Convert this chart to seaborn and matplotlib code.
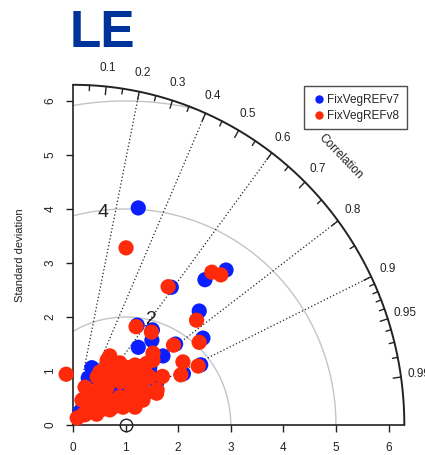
import numpy as np
import pandas as pd
import matplotlib
matplotlib.use("Agg")
import matplotlib.pyplot as plt
import seaborn as sns

# ---------------- data (standard deviation, correlation) ----------------
models = ["FixVegREFv7", "FixVegREFv8"]
colors = ["#0A1EFF", "#FF2A0A"]

sd_v7 = [4.207, 4.087, 3.679, 3.162, 3.196, 2.948, 2.460, 2.672, 2.305, 2.136,
         2.216, 2.319, 2.171, 1.900, 1.810, 1.761, 1.771, 1.446, 1.549, 1.078,
         1.088, 0.917, 1.120, 0.327, 0.273, 1.089, 0.381, 0.781, 1.166, 0.541,
         1.432, 1.345, 1.140, 1.142, 0.626, 0.930, 1.415]
corr_v7 = [0.295, 0.712, 0.682, 0.591, 0.751, 0.838, 0.793, 0.909, 0.911, 0.801,
           0.551, 0.651, 0.691, 0.653, 0.807, 0.863, 0.898, 0.788, 0.723, 0.798,
           0.349, 0.316, 0.321, 0.520, 0.476, 0.698, 0.499, 0.768, 0.858, 0.832,
           0.908, 0.669, 0.614, 0.919, 0.479, 0.591, 0.848]

sd_v8 = [3.432, 3.870, 3.953, 3.135, 3.047, 2.846, 2.416, 2.395, 2.251, 2.618,
         1.924, 2.180, 2.276, 2.020, 0.949, 1.806, 1.696, 1.459, 1.247, 0.737,
         0.269, 0.866, 1.170, 1.458, 1.620, 1.763, 1.031, 1.225, 1.407, 0.829,
         0.654, 0.534, 0.153, 0.298, 0.704, 1.365, 1.454, 1.250, 0.955, 0.679,
         0.838, 1.323, 1.552, 1.525, 1.253, 1.006, 0.754, 1.727, 0.460, 1.002,
         0.490, 1.937, 1.710, 1.105, 0.721, 0.671, 1.204, 1.304, 0.424, 0.778,
         1.414, 1.366, 1.124, 0.939, 0.492, 1.523]
corr_v8 = [0.294, 0.682, 0.711, 0.577, 0.771, 0.843, 0.791, 0.873, 0.911, 0.909,
           0.884, 0.550, 0.655, 0.753, -0.137, 0.775, 0.938, 0.480, 0.513, 0.312,
           0.707, 0.589, 0.650, 0.679, 0.728, 0.777, 0.863, 0.963, 0.945, 0.917,
           0.780, 0.506, 0.524, 0.771, 0.384, 0.476, 0.612, 0.640, 0.681, 0.677,
           0.836, 0.779, 0.786, 0.859, 0.910, 0.945, 0.929, 0.926, 0.696, 0.459,
           0.347, 0.785, 0.854, 0.462, 0.555, 0.894, 0.747, 0.844, 0.707, 0.707,
           0.707, 0.915, 0.534, 0.905, 0.914, 0.919]

ref_sd = 1.0
max_sd = 6.3
rms_levels = [2, 4, 6]
gamma_lines = [0.2, 0.4, 0.6, 0.8, 0.9]
corr_labels = [0.1, 0.2, 0.3, 0.4, 0.5, 0.6, 0.7, 0.8, 0.9, 0.95, 0.99]
sd_ticks = [0, 1, 2, 3, 4, 5, 6]

# ---------------- build table ----------------
frames = []
for m, sd, cr in [(models[0], sd_v7, corr_v7), (models[1], sd_v8, corr_v8)]:
    sd = np.asarray(sd); cr = np.asarray(cr)
    frames.append(pd.DataFrame({"model": m, "x": sd * cr,
                                "y": sd * np.sqrt(1 - cr ** 2)}))
df = pd.concat(frames, ignore_index=True)

# ---------------- figure ----------------
sns.set_style("white")
plt.rcParams["font.family"] = ["Liberation Sans", "DejaVu Sans"]

fig = plt.figure(figsize=(4.25, 4.55), dpi=100)
ax = fig.add_axes([0.1408, 0.0363, 0.8415, 0.807])
ax.set_xlim(-0.25, 6.55)
ax.set_ylim(-0.25, 6.55)

# RMS arcs around reference
th = np.linspace(0, np.pi, 800)
for r in rms_levels:
    xs = ref_sd + r * np.cos(th)
    ys = r * np.sin(th)
    ok = (np.hypot(xs, ys) <= max_sd) & (xs >= 0)
    xs = np.where(ok, xs, np.nan); ys = np.where(ok, ys, np.nan)
    ax.plot(xs, ys, color="#C4C4C4", lw=1.0, zorder=1)

# correlation lines
for g in gamma_lines:
    ax.plot([0, max_sd * g], [0, max_sd * np.sqrt(1 - g ** 2)],
            color="#222222", lw=0.9, ls=(0, (1, 1.8)), zorder=1)

# outer arc
ta = np.linspace(0, np.pi / 2, 300)
ax.plot(max_sd * np.cos(ta), max_sd * np.sin(ta), color="#222222", lw=1.4,
        zorder=2, clip_on=False)

# arc ticks
minor = list(np.round(np.arange(0.05, 0.91, 0.05), 2)) + list(np.round(np.arange(0.91, 1.0, 0.01), 2))
for c in minor:
    major = any(abs(c - v) < 1e-6 for v in corr_labels)
    L = 0.024 if major else 0.016
    s = np.sqrt(1 - c ** 2)
    ax.plot([max_sd * c, max_sd * (1 - L) * c], [max_sd * s, max_sd * (1 - L) * s],
            color="#222222", lw=1.0, zorder=2)
for c in corr_labels:
    s = np.sqrt(1 - c ** 2)
    ax.text(max_sd * 1.055 * c, max_sd * 1.055 * s, f"{c:g}", ha="center",
            va="center", fontsize=8.5, color="#222222")
ax.text(5.08, 4.97, "Correlation", rotation=-46, ha="center", va="center",
        fontsize=8.5, color="#222222", rotation_mode="anchor")

# RMS labels
ax.text(0.57, 3.94, "4", fontsize=14, ha="center", va="center", color="#222222")
ax.text(1.5, 1.95, "2", fontsize=14, ha="center", va="center", color="#222222")

# points
sns.scatterplot(data=df, x="x", y="y", hue="model", palette=colors,
                hue_order=models, s=120, linewidth=0, alpha=1.0, ax=ax,
                zorder=3, clip_on=False, legend=True)

# reference point
ax.plot([ref_sd], [0], marker="o", ms=9, mfc="none", mec="#222222", mew=1.0,
        clip_on=False, zorder=4)

# axes
for side in ["top", "right"]:
    ax.spines[side].set_visible(False)
ax.spines["left"].set_position(("data", 0))
ax.spines["bottom"].set_position(("data", 0))
ax.spines["left"].set_bounds(0, max_sd)
ax.spines["bottom"].set_bounds(0, max_sd)
for side in ["left", "bottom"]:
    ax.spines[side].set_color("#222222")
    ax.spines[side].set_linewidth(1.2)
ax.set_xticks(sd_ticks)
ax.set_yticks(sd_ticks)
ax.set_xticklabels([str(v) for v in sd_ticks])
ax.set_yticklabels([str(v) for v in sd_ticks], rotation=90, va="center")
ax.tick_params(axis="both", direction="out", length=5, width=1.0,
               colors="#222222", labelsize=8.5, pad=7, bottom=True, left=True)
ax.set_xlabel("")
ax.set_ylabel("")
fig.text(20 / 425, 1 - 255 / 455, "Standard deviation", rotation=90,
         ha="center", va="center", fontsize=8, color="#222222")

# legend
h, l = ax.get_legend_handles_labels()
leg = ax.legend(h, l, loc="upper right", bbox_to_anchor=(407 / 425, 1 - 86 / 455),
                bbox_transform=fig.transFigure, frameon=True, fancybox=False,
                edgecolor="#222222", fontsize=8.5, markerscale=0.55,
                handletextpad=0.1, borderpad=0.65, labelspacing=0.35,
                handlelength=1.2, borderaxespad=0)
leg.get_frame().set_linewidth(1.0)

# title
fig.text(70 / 425, 1 - 47 / 455, "LE", fontsize=37, fontweight="bold",
         color="#003399", ha="left", va="baseline")

fig.savefig("out.png", dpi=100)
